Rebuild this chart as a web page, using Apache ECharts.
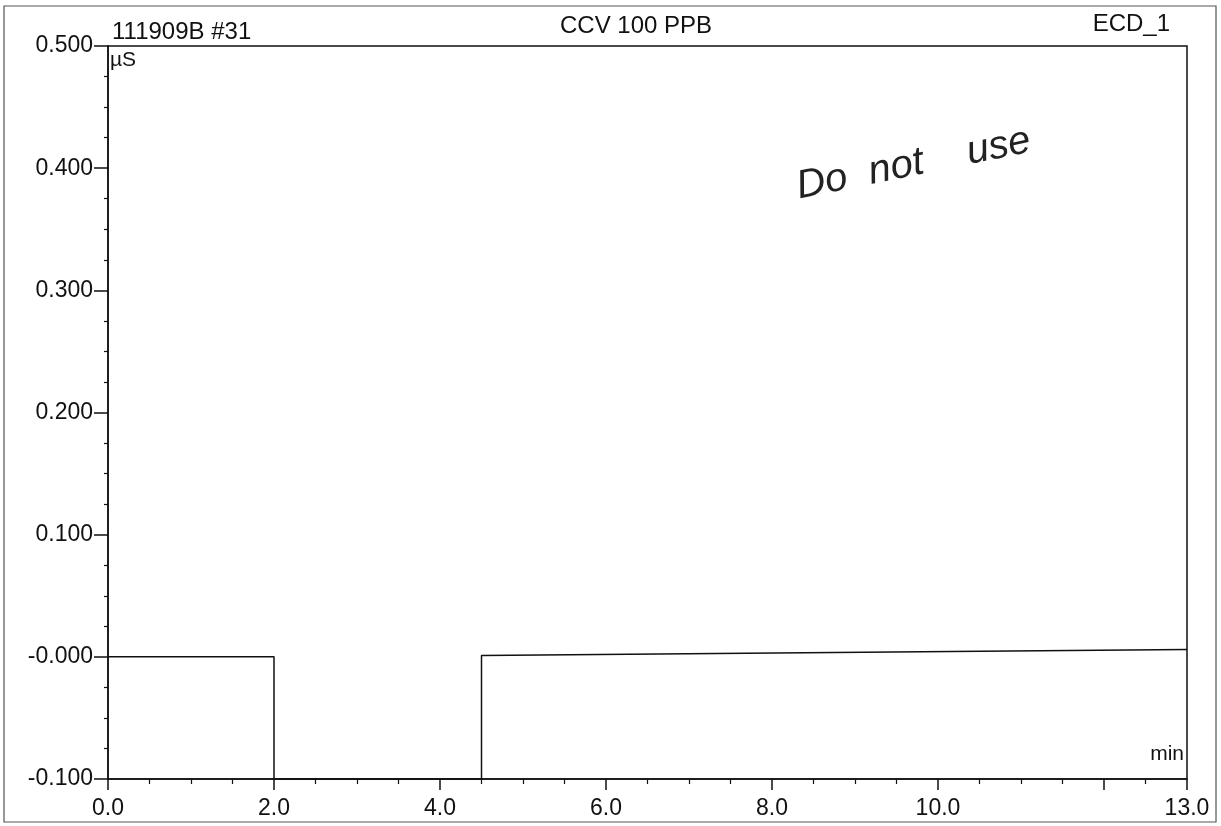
<!DOCTYPE html>
<html>
<head>
<meta charset="utf-8">
<script src="https://cdn.jsdelivr.net/npm/echarts@6/dist/echarts.min.js"></script>
<style>
  html, body { margin: 0; padding: 0; background: #fff; }
  #chart { width: 1221px; height: 826px; }
</style>
</head>
<body>
<div id="chart"></div>
<script>
// chromatogram trace, time in min and signal in uS
const timeMin = [0, 2.0, 2.0, 4.5, 4.5, 13.0];
const signalUS = [0.000, 0.000, -0.100, -0.100, 0.001, 0.006];

// axis labels shown on the x axis (12.0 is ticked but not labelled)
const xLabels = [0, 2, 4, 6, 8, 10, 13];

const FONT = "'Liberation Sans', Arial, sans-serif";

let chartDom = document.getElementById('chart');
let myChart = echarts.init(chartDom);
let option;

option = {
  animation: false,
  backgroundColor: '#fff',
  title: [
    { text: '111909B #31', left: 107, top: 15, textStyle: { fontFamily: FONT, fontSize: 24, fontWeight: 'normal', color: '#111' } },
    { text: 'CCV 100 PPB', left: 555, top: 9, textStyle: { fontFamily: FONT, fontSize: 24, fontWeight: 'normal', color: '#111' } },
    { text: 'ECD_1', right: 46, top: 7, textStyle: { fontFamily: FONT, fontSize: 24, fontWeight: 'normal', color: '#111' } }
  ],
  grid: {
    left: 108,
    right: 34,
    top: 46,
    bottom: 47,
    show: true,
    borderColor: '#111',
    borderWidth: 1.5,
    containLabel: false
  },
  xAxis: {
    type: 'value',
    min: 0,
    max: 13,
    interval: 2,
    axisLine: { show: true, onZero: false, lineStyle: { color: '#111', width: 1.5 } },
    axisTick: { show: true, length: 11, lineStyle: { color: '#111', width: 1.5 } },
    minorTick: { show: true, splitNumber: 4, length: 5, lineStyle: { color: '#111', width: 1.2 } },
    splitLine: { show: false },
    axisLabel: {
      margin: 18,
      fontFamily: FONT,
      fontSize: 23,
      color: '#111',
      showMaxLabel: true,
      formatter: function (v) {
        return xLabels.indexOf(v) >= 0 ? v.toFixed(1) : '';
      }
    }
  },
  yAxis: {
    type: 'value',
    min: -0.1,
    max: 0.5,
    interval: 0.1,
    axisLine: { show: true, onZero: false, lineStyle: { color: '#111', width: 1.5 } },
    axisTick: { show: true, length: 14, lineStyle: { color: '#111', width: 1.5 } },
    minorTick: { show: true, splitNumber: 4, length: 4, lineStyle: { color: '#111', width: 1.2 } },
    splitLine: { show: false },
    axisLabel: {
      margin: 15,
      fontFamily: FONT,
      fontSize: 23,
      color: '#111',
      formatter: function (v) {
        return Math.abs(v) < 1e-9 ? '-0.000' : v.toFixed(3);
      }
    }
  },
  graphic: [
    {
      type: 'rect',
      shape: { x: 4, y: 6, width: 1212, height: 816 },
      style: { fill: 'none', stroke: '#555', lineWidth: 1.2 },
      silent: true
    },
    {
      type: 'text', left: 110, top: 50,
      style: { text: 'µS', font: '21px ' + FONT, fill: '#111' }
    },
    {
      type: 'text', right: 37, top: 744,
      style: { text: 'min', font: '21px ' + FONT, fill: '#111' }
    },
    {
      type: 'text', x: 793, y: 168, rotation: 0.2,
      style: { text: 'Do  not    use', font: 'italic 40px ' + FONT, fill: '#222' }
    }
  ],
  series: [
    {
      type: 'line',
      data: timeMin.map((t, i) => [t, signalUS[i]]),
      showSymbol: false,
      lineStyle: { color: '#111', width: 1.5 },
      clip: true
    }
  ]
};
myChart.setOption(option);
</script>
</body>
</html>
